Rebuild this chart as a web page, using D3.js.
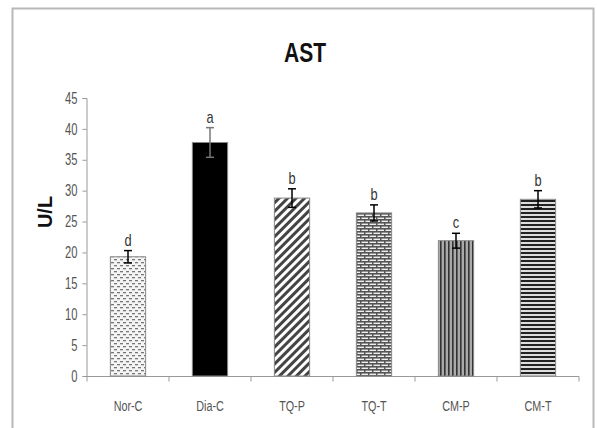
<!DOCTYPE html>
<html><head><meta charset="utf-8">
<script src="https://cdn.jsdelivr.net/npm/d3@7"></script>
<style>body{margin:0;background:#fff}svg{display:block}</style>
</head><body>
<svg id="c" width="597" height="428"></svg>
<script>
const categories = ["Nor-C","Dia-C","TQ-P","TQ-T","CM-P","CM-T"];
const means = [19.3, 37.8, 28.8, 26.4, 21.9, 28.6];
const errors = [1.0, 2.4, 1.5, 1.3, 1.2, 1.4];
const letters = ["d","a","b","b","c","b"];
const yTicks = [0,5,10,15,20,25,30,35,40,45];
const fills = ["url(#pDots)","#000","url(#pDiag)","url(#pBrick)","url(#pVert)","url(#pHoriz)"];

const svg = d3.select("#c");
const font = "'Liberation Sans','DejaVu Sans',sans-serif";

// frame
svg.append("rect").attr("x",12.5).attr("y",8.5).attr("width",581).attr("height",430)
  .attr("fill","#fff").attr("stroke","#b8b8b8").attr("stroke-width",2);

const defs = svg.append("defs");
let p = defs.append("pattern").attr("id","pDots").attr("patternUnits","userSpaceOnUse").attr("width",6).attr("height",6);
p.append("rect").attr("width",6).attr("height",6).attr("fill","#f4f4f4");
p.append("rect").attr("x",0).attr("y",1).attr("width",3).attr("height",1.3).attr("fill","#777");
p.append("rect").attr("x",3).attr("y",4).attr("width",3).attr("height",1.3).attr("fill","#777");
p = defs.append("pattern").attr("id","pDiag").attr("patternUnits","userSpaceOnUse").attr("width",6).attr("height",6).attr("patternTransform","rotate(45)");
p.append("rect").attr("width",6).attr("height",6).attr("fill","#fff");
p.append("rect").attr("x",0).attr("y",0).attr("width",3).attr("height",6).attr("fill","#444");
p = defs.append("pattern").attr("id","pBrick").attr("patternUnits","userSpaceOnUse").attr("width",8).attr("height",6);
p.append("rect").attr("width",8).attr("height",6).attr("fill","#eee");
p.append("rect").attr("x",0).attr("y",0).attr("width",8).attr("height",1.6).attr("fill","#555");
p.append("rect").attr("x",0).attr("y",3).attr("width",8).attr("height",1.6).attr("fill","#555");
p.append("rect").attr("x",0).attr("y",0).attr("width",1.5).attr("height",3).attr("fill","#555");
p.append("rect").attr("x",4).attr("y",3).attr("width",1.5).attr("height",3).attr("fill","#555");
p = defs.append("pattern").attr("id","pVert").attr("patternUnits","userSpaceOnUse").attr("width",4).attr("height",4);
p.append("rect").attr("width",4).attr("height",4).attr("fill","#aaa");
p.append("rect").attr("x",0).attr("width",1.6).attr("height",4).attr("fill","#333");
p = defs.append("pattern").attr("id","pHoriz").attr("patternUnits","userSpaceOnUse").attr("width",4).attr("height",4);
p.append("rect").attr("width",4).attr("height",4).attr("fill","#ddd");
p.append("rect").attr("y",0).attr("width",4).attr("height",2).attr("fill","#222");

const x = d3.scaleBand().domain(categories).range([87,579]).paddingInner(0.57).paddingOuter(0.285);
const y = d3.scaleLinear().domain([0,45]).range([376,98]);

// y axis
const yAxis = svg.append("g").attr("transform","translate(86.5,0)")
  .call(d3.axisLeft(y).tickValues(yTicks).tickSize(4).tickPadding(5).tickFormat(d3.format("d")));
yAxis.select(".domain").attr("stroke","#999");
yAxis.selectAll(".tick line").attr("stroke","#999");
yAxis.selectAll("text").attr("font-family",font).attr("font-size",16).attr("fill","#555")
  .attr("x",null).attr("transform","translate(-9,0) scale(0.7,1)");

// x axis
const xb = d3.scaleLinear().domain([0,categories.length]).range([87,579]);
const xAxis = svg.append("g").attr("transform","translate(0,376.5)");
xAxis.append("line").attr("x1",87).attr("x2",579).attr("stroke","#999");
xAxis.selectAll("line.t").data(d3.range(categories.length+1)).join("line").attr("class","t")
  .attr("x1",d=>xb(d)).attr("x2",d=>xb(d)).attr("y1",0).attr("y2",5).attr("stroke","#999");
xAxis.selectAll("text").data(categories).join("text")
  .attr("transform",d=>`translate(${x(d)+x.bandwidth()/2},34) scale(0.72,1)`).attr("text-anchor","middle")
  .attr("font-family",font).attr("font-size",15).attr("fill","#555").text(d=>d);

// bars
svg.selectAll("rect.bar").data(categories).join("rect").attr("class","bar")
  .attr("x",d=>x(d)).attr("width",x.bandwidth())
  .attr("y",(d,i)=>y(means[i])).attr("height",(d,i)=>y(0)-y(means[i]))
  .attr("fill",(d,i)=>fills[i]).attr("stroke","#888").attr("stroke-width",1);

// error bars
const eg = svg.append("g");
categories.forEach((c,i)=>{
  const cx = x(c)+x.bandwidth()/2;
  const col = i===1 ? "#777" : "#000";
  eg.append("line").attr("x1",cx).attr("x2",cx).attr("y1",y(means[i]-errors[i])).attr("y2",y(means[i]+errors[i])).attr("stroke",col).attr("stroke-width",1.5);
  eg.append("line").attr("x1",cx-4).attr("x2",cx+4).attr("y1",y(means[i]+errors[i])).attr("y2",y(means[i]+errors[i])).attr("stroke",col).attr("stroke-width",1.5);
  eg.append("line").attr("x1",cx-4).attr("x2",cx+4).attr("y1",y(means[i]-errors[i])).attr("y2",y(means[i]-errors[i])).attr("stroke",col).attr("stroke-width",1.5);
  eg.append("text").attr("transform",`translate(${cx},${y(means[i]+errors[i])-5}) scale(0.8,1)`).attr("text-anchor","middle")
    .attr("font-family",font).attr("font-size",16).attr("fill","#333").text(letters[i]);
});

// title
svg.append("text").attr("transform","translate(305,62) scale(0.78,1)").attr("text-anchor","middle")
  .attr("font-family",font).attr("font-weight","bold").attr("font-size",27).attr("fill","#111").text("AST");
// y label
svg.append("text").attr("transform","translate(52,212) rotate(-90)").attr("text-anchor","middle")
  .attr("font-family",font).attr("font-weight","bold").attr("font-size",20).attr("fill","#111").text("U/L");
</script>
</body></html>
